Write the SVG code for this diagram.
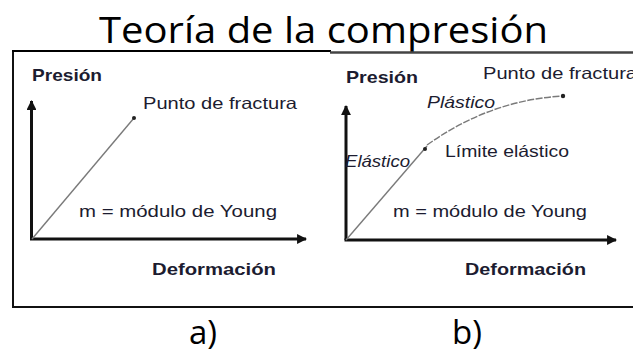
<svg xmlns="http://www.w3.org/2000/svg" width="633" height="354" viewBox="0 0 633 354">
<style>
.title{font-family:"Open Sans","Liberation Sans",sans-serif;font-size:37px;fill:#000}
.lbl{font-family:"Liberation Sans",Arial,sans-serif;font-size:16.5px;fill:#1c1c30}
.b{font-weight:bold}
.i{font-style:italic}
.axis{stroke:#111;stroke-width:3;fill:none}
.curve{stroke:#7a7a7a;stroke-width:1.4;fill:none}
.cap{font-family:"Open Sans","Liberation Sans",sans-serif;font-size:33px;fill:#000}
</style>
<defs>
<marker id="ah" viewBox="0 0 10 10" refX="9" refY="5" markerWidth="3.3" markerHeight="3.3" orient="auto" markerUnits="strokeWidth">
<path d="M0,0 L10,5 L0,10 z" fill="#111"/>
</marker>
</defs>
<rect width="633" height="354" fill="#fff"/>
<g id="title">
<text class="title" x="99" y="43" textLength="449" lengthAdjust="spacingAndGlyphs">Teoría de la compresión</text>
</g>
<g id="frame">
<line x1="13" y1="51" x2="13" y2="307" stroke="#111" stroke-width="2"/>
<line x1="12" y1="307" x2="633" y2="307" stroke="#111" stroke-width="2"/>
<line x1="12" y1="51" x2="331" y2="51" stroke="#000" stroke-width="2"/>
<line x1="330" y1="52.5" x2="633" y2="52.5" stroke="#444" stroke-width="2.5"/>
</g>
<g id="panel-a">
<line class="axis" x1="31.5" y1="239" x2="31.5" y2="101" marker-end="url(#ah)"/>
<line class="axis" x1="30" y1="239" x2="306" y2="239" marker-end="url(#ah)"/>
<line class="curve" x1="32" y1="239" x2="134" y2="118"/>
<circle cx="134" cy="118" r="2" fill="#222"/>
<text class="lbl b" x="32" y="81" textLength="70" lengthAdjust="spacingAndGlyphs">Presión</text>
<text class="lbl" x="143" y="109" textLength="154" lengthAdjust="spacingAndGlyphs">Punto de fractura</text>
<text class="lbl" x="79" y="217" textLength="198" lengthAdjust="spacingAndGlyphs">m = módulo de Young</text>
<text class="lbl b" x="152" y="275" textLength="124" lengthAdjust="spacingAndGlyphs">Deformación</text>
</g>
<g id="panel-b">
<line class="axis" x1="346" y1="240" x2="346" y2="106" marker-end="url(#ah)"/>
<line class="axis" x1="344.5" y1="240" x2="616" y2="240" marker-end="url(#ah)"/>
<line class="curve" x1="346" y1="240" x2="427" y2="146"/>
<path class="curve" d="M427,145 Q490,100 563,96" stroke-dasharray="7 1.5"/>
<circle cx="425" cy="149" r="2" fill="#222"/>
<circle cx="563" cy="96" r="2.2" fill="#222"/>
<text class="lbl b" x="346" y="83" textLength="72" lengthAdjust="spacingAndGlyphs">Presión</text>
<text class="lbl" x="483" y="79" textLength="154" lengthAdjust="spacingAndGlyphs">Punto de fractura</text>
<text class="lbl i" x="427" y="108" textLength="68" lengthAdjust="spacingAndGlyphs">Plástico</text>
<text class="lbl" x="445" y="157" textLength="124" lengthAdjust="spacingAndGlyphs">Límite elástico</text>
<text class="lbl i" x="345" y="167" textLength="65" lengthAdjust="spacingAndGlyphs">Elástico</text>
<text class="lbl" x="393" y="217" textLength="194" lengthAdjust="spacingAndGlyphs">m = módulo de Young</text>
<text class="lbl b" x="465" y="275" textLength="121" lengthAdjust="spacingAndGlyphs">Deformación</text>
</g>
<g id="captions">
<text class="cap" x="203" y="344" text-anchor="middle">a)</text>
<text class="cap" x="467" y="344" text-anchor="middle">b)</text>
</g>
</svg>
